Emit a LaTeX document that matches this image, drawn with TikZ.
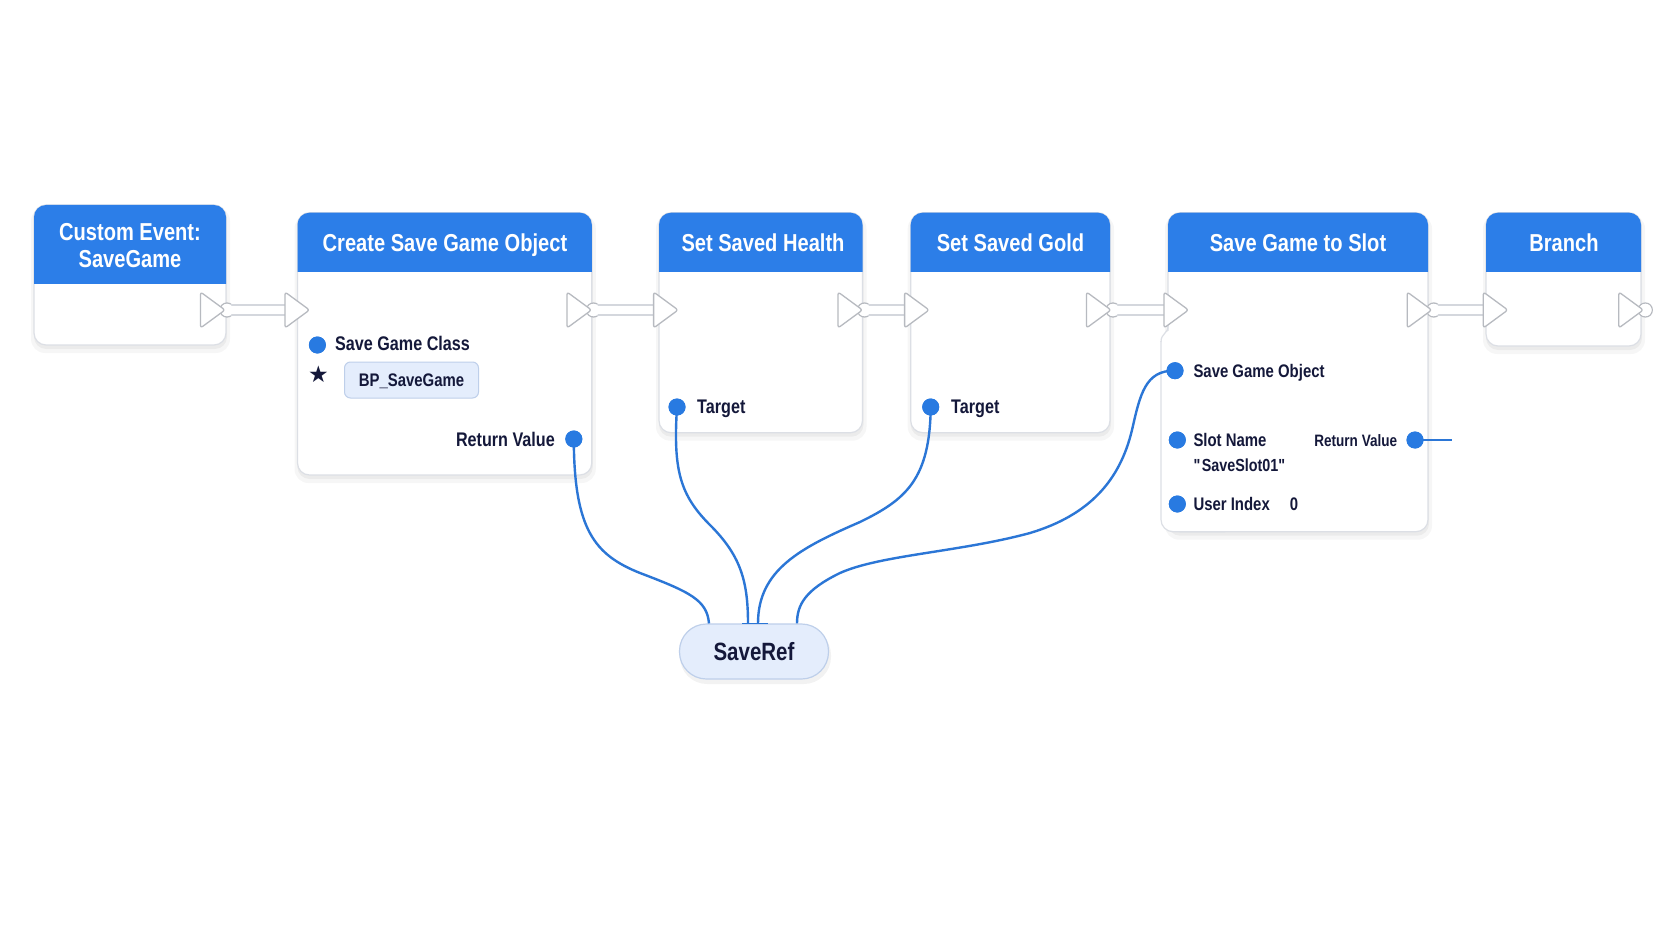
\documentclass[tikz,border=0pt]{standalone}
\usepackage{fontspec}
\setmainfont{Liberation Sans}[FakeStretch=0.82]
\newfontfamily\symf{DejaVu Sans}
\newcommand\sq{\XeTeXglyph\XeTeXglyphindex "quotedbl"\relax}
\usetikzlibrary{calc}
\definecolor{hdr}{RGB}{44,126,232}
\definecolor{pinb}{RGB}{40,122,225}
\definecolor{wireb}{RGB}{43,118,214}
\definecolor{ink}{RGB}{20,24,58}
\definecolor{bord}{RGB}{220,223,229}
\definecolor{execg}{RGB}{183,186,192}
\definecolor{tubeg}{RGB}{212,215,221}
\definecolor{lightb}{RGB}{228,237,252}
\definecolor{lightbd}{RGB}{190,207,234}
\tikzset{
 bodybox/.style={draw=bord, line width=1.2pt, fill=white, rounded corners=12pt, inner sep=0pt, outer sep=0pt},
 pinc/.style={circle, fill=pinb, inner sep=0pt, minimum size=17pt},
 wire/.style={draw=wireb, line width=2.4pt},
 tube/.style={draw=tubeg, line width=2pt, double=white, double distance=8pt},
 trig/.style={draw=execg, line width=1.3pt, fill=white, rounded corners=2.5pt, line join=round},
 knob/.style={draw=execg, line width=1.3pt, fill=white},
 htext/.style={text=white, font=\fontsize{24.5}{28}\selectfont\bfseries, inner sep=0pt, anchor=base},
 lbl/.style={text=ink, font=\fontsize{19.7}{22}\selectfont\bfseries, inner sep=0pt, anchor=base west},
 slbl/.style={text=ink, font=\fontsize{18.2}{21}\selectfont\bfseries, inner sep=0pt, anchor=base west},
}
\newcommand\bpbox[6]{%
 \fill[black, opacity=0.035, rounded corners=14pt] (#2-3,#3+2) rectangle (#4+4,#5+8);
 \fill[black, opacity=0.045, rounded corners=12pt] (#2,#3+3) rectangle (#4+1,#5+4);
 \node[bodybox, minimum width={#4-#2}, minimum height={#5-#3}] (#1) at ({(#2+#4)/2},{(#3+#5)/2}) {};
 \begin{scope}
 \clip (#2-2,#3-2) rectangle (#4+2,#6);
 \fill[hdr, rounded corners=12pt] (#2,#3) rectangle (#4,#5);
 \end{scope}%
}
\newcommand\outtri[2]{\draw[trig] (#1-24.5,#2-18) -- (#1,#2) -- (#1-24.5,#2+18) -- cycle;}
\newcommand\intri[2]{\draw[trig] (#1,#2-18) -- (#1+24.5,#2) -- (#1,#2+18) -- cycle;}
\begin{document}
\begin{tikzpicture}[x=1pt,y=-1pt]
\useasboundingbox (0,0) rectangle (1672,941);
\fill[white] (0,0) rectangle (1672,941);

% ---------- node boxes ----------
\bpbox{custom}{34}{205}{226}{345}{283}
\bpbox{create}{297.5}{212.7}{591.8}{475}{271.7}
\bpbox{health}{659}{212.7}{862.5}{432.7}{271.7}
\bpbox{gold}{910.7}{212.7}{1110}{432.7}{271.7}
\bpbox{slot}{1168}{212.7}{1428}{531.7}{271.7}
\fill[white, rounded corners=12pt] (1161,330) rectangle (1220,531.7);
\draw[draw=bord, line width=1.2pt] (1168,326) .. controls (1168,334) and (1161,333) .. (1161,342);
\draw[draw=bord, line width=1.2pt, rounded corners=12pt] (1161,341) -- (1161,531.7) -- (1225,531.7);
\bpbox{branch}{1486}{212.7}{1641}{346}{271.7}

% ---------- header titles ----------
\node[htext] (custom-t1) at (130,240.5) {Custom Event:};
\node[htext] (custom-t2) at (130,267) {SaveGame};
\node[htext] (create-t) at (445,251.5) {Create Save Game Object};
\node[htext] (health-t) at (763,251.5) {Set Saved Health};
\node[htext] (gold-t) at (1010.5,251.5) {Set Saved Gold};
\node[htext] (slot-t) at (1298,251.5) {Save Game to Slot};
\node[htext] (branch-t) at (1564,251.5) {Branch};

% ---------- exec pins ----------
\coordinate (custom-xo) at (227,310);
\coordinate (create-xo) at (593.5,310);
\coordinate (health-xo) at (864.5,310);
\coordinate (gold-xo) at (1113,310);
\coordinate (slot-xo) at (1433.7,310);
\coordinate (branch-xo) at (1645.3,310);
\coordinate (create-xi) at (288,310);
\coordinate (health-xi) at (656.6,310);
\coordinate (gold-xi) at (907.6,310);
\coordinate (slot-xi) at (1167,310);
\coordinate (branch-xi) at (1486.3,310);
\foreach \k in {custom,create,health,gold,slot,branch}{\draw[knob] (\k-xo) circle (7);}
\draw[tube] (custom-xo) -- (create-xi);
\draw[tube] (create-xo) -- (health-xi);
\draw[tube] (health-xo) -- (gold-xi);
\draw[tube] (gold-xo) -- (slot-xi);
\draw[tube] (slot-xo) -- (branch-xi);
\foreach \k in {custom,create,health,gold,slot,branch}{\fill[white] (\k-xo) circle (6.2);}
\outtri{225}{310}
\outtri{591.5}{310}
\outtri{862.5}{310}
\outtri{1111}{310}
\outtri{1431.7}{310}
\outtri{1643.3}{310}
\intri{285}{310}
\intri{653.6}{310}
\intri{904.6}{310}
\intri{1164}{310}
\intri{1483.3}{310}

% ---------- SaveRef ----------
\fill[black, opacity=0.05, rounded corners=27pt] (680,628) rectangle (831,684);
\node[draw=lightbd, line width=1.2pt, fill=lightb, rounded corners=27pt, minimum width=149pt, minimum height=55pt, inner sep=0pt,
 text=ink, font=\fontsize{25}{28}\selectfont\bfseries, text height=18pt, text depth=0pt] (saveref) at (754,651.5) {SaveRef};

% ---------- data pins (positions) ----------
\node[pinc] (create-sgc) at (317.4,345) {};
\node[pinc] (create-rv) at (573.8,439) {};
\node[pinc] (health-tg) at (677,407) {};
\node[pinc] (gold-tg) at (930.7,407) {};
\node[pinc] (slot-sgo) at (1175,370.7) {};
\node[pinc] (slot-sn) at (1177.3,440) {};
\node[pinc] (slot-ui) at (1177.3,504) {};
\node[pinc] (slot-rv) at (1415,440) {};
\coordinate (slot-rvend) at (1452,440);

% ---------- data wires ----------
\draw[wire] (create-rv.center) .. controls (574,530) and (595,555) .. (640,573)
 .. controls (690,592) and (707,600) .. ($(saveref.north)+(-45,0)$);
\draw[wire] (health-tg.center) .. controls (673,470) and (680,495) .. (710,525)
 .. controls (740,555) and (748,580) .. ($(saveref.north)+(-6,0)$);
\draw[wire] (gold-tg.center) .. controls (930,480) and (905,500) .. (860,522)
 .. controls (800,548) and (758,570) .. ($(saveref.north)+(4,0)$);
\draw[wire] (slot-sgo.center) .. controls (1145,370) and (1140,395) .. (1132,430)
 .. controls (1120,480) and (1090,515) .. (1030,533)
 .. controls (960,552) and (880,555) .. (840,573)
 .. controls (805,590) and (797,605) .. ($(saveref.north)+(43,0)$);
\draw[wire, line width=1.8pt] ($(saveref.north)+(-12,0)$) -- ($(saveref.north)+(14,0)$);
\draw[wire, line width=2pt] (slot-rv.center) -- (slot-rvend);

% redraw pins on top of wires
\foreach \p in {create-sgc,create-rv,health-tg,gold-tg,slot-sgo,slot-sn,slot-ui,slot-rv}{\fill[pinb] (\p) circle (8.5);}

% ---------- labels ----------
\node[lbl] (create-sgc-l) at (335,350.7) {Save Game Class};
\node[text=ink, font=\symf\fontsize{23}{23}\selectfont, inner sep=0pt] (create-star) at (318.5,374.5) {★};
\node[draw=lightbd, line width=1pt, fill=lightb, rounded corners=6pt, minimum width=134pt, minimum height=36pt, inner sep=0pt,
 text=ink, font=\fontsize{18.2}{20}\selectfont\bfseries, text height=13.2pt, text depth=0pt] (create-bp) at (411.5,380) {BP\_SaveGame};
\node[lbl, anchor=base east] (create-rv-l) at (555,446.7) {Return Value};
\node[lbl] (health-tg-l) at (697,413.3) {Target};
\node[lbl] (gold-tg-l) at (951,413.3) {Target};
\node[slbl] (slot-sgo-l) at (1193.3,377.5) {Save Game Object};
\node[slbl] (slot-sn-l) at (1193.3,446.7) {Slot Name};
\node[slbl, font=\fontsize{17.5}{20}\selectfont\bfseries] (slot-sn-v) at (1193.3,471.7) {\sq SaveSlot01\sq};
\node[slbl] (slot-ui-l) at (1193.3,510.7) {User Index};
\node[slbl, anchor=base] (slot-ui-v) at (1294,510.7) {0};
\node[slbl, anchor=base east, font=\fontsize{16.5}{19}\selectfont\bfseries] (slot-rv-l) at (1397.3,446.7) {Return Value};
\end{tikzpicture}
\end{document}
